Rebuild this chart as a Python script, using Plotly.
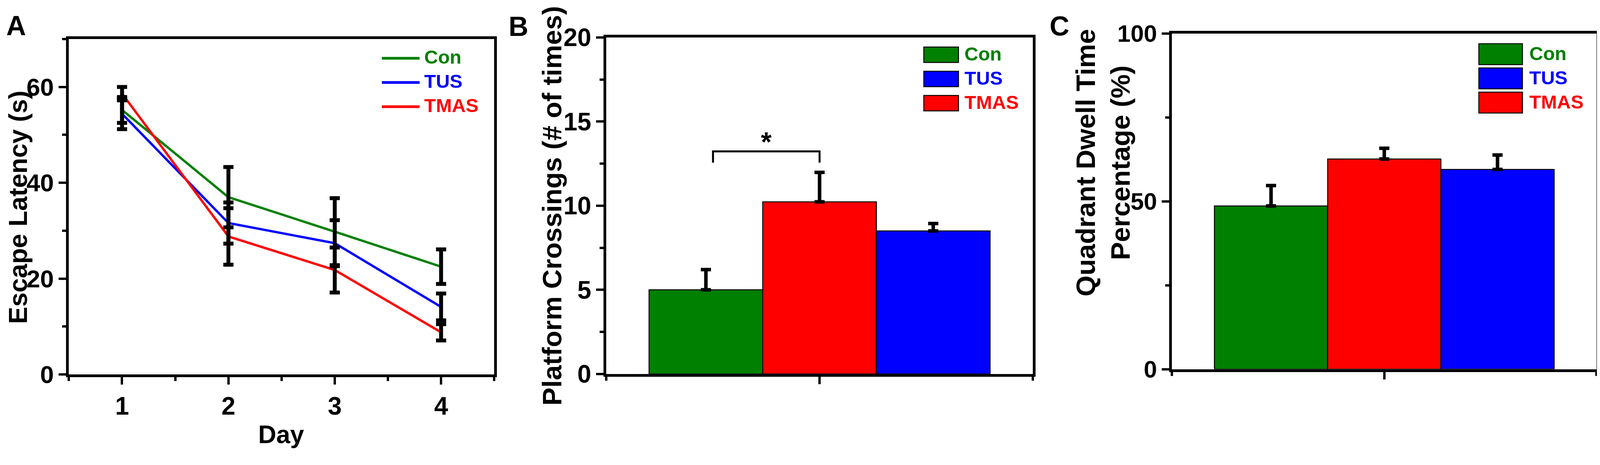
import plotly.graph_objects as go

# ---- data ----
days = [1, 2, 3, 4]
groups = ["Con", "TUS", "TMAS"]
colors = {"Con": "#008000", "TUS": "#0000FF", "TMAS": "#FF0000"}

latency = {
    "Con": [55.2, 37.0, 29.8, 22.5],
    "TUS": [54.4, 31.6, 27.4, 14.1],
    "TMAS": [58.6, 28.8, 21.8, 8.8],
}
latency_err = {
    "Con": [2.7, 6.3, 7.0, 3.6],
    "TUS": [3.2, 4.3, 4.8, 2.8],
    "TMAS": [1.4, 5.9, 4.7, 1.7],
}

bar_order = ["Con", "TMAS", "TUS"]
crossings = {"Con": 5.0, "TMAS": 10.23, "TUS": 8.5}
crossings_err = {"Con": 1.2, "TMAS": 1.75, "TUS": 0.44}
dwell = {"Con": 48.6, "TMAS": 62.6, "TUS": 59.5}
dwell_err = {"Con": 6.1, "TMAS": 3.2, "TUS": 4.3}

# ---- layout helpers ----
# the page only shows ~4096px across and has an 8px body margin,
# so positions measured on the 4239x1191 original are squeezed to fit
REF_W, REF_H = 4239, 1191
SX = 4096 / REF_W
W, H = 4088, 1183
FONT = "Liberation Sans, Arial, sans-serif"


def px(x):
    return (x * SX - 8) / W


def py(y):
    return 1 - (y - 8) / H


fig = go.Figure()

# panel A: lines first, error bars on top
for g in groups:
    fig.add_trace(go.Scatter(x=days, y=latency[g], mode="lines", name=g,
                             line=dict(color=colors[g], width=6),
                             xaxis="x", yaxis="y", showlegend=False))
for g in groups:
    fig.add_trace(go.Scatter(x=days, y=latency[g], mode="markers",
                             marker=dict(size=1, color="black"),
                             error_y=dict(type="data", array=latency_err[g], color="black",
                                          thickness=10, width=13),
                             xaxis="x", yaxis="y", showlegend=False))

# panels B and C: grouped bars
for g in bar_order:
    fig.add_trace(go.Bar(x=[0], y=[crossings[g]], name=g, xaxis="x2", yaxis="y2",
                         marker=dict(color=colors[g], line=dict(color="black", width=2.5)),
                         error_y=dict(type="data", symmetric=False, array=[crossings_err[g]],
                                      arrayminus=[0], color="black", thickness=9, width=13),
                         showlegend=False))
    fig.add_trace(go.Bar(x=[0], y=[dwell[g]], name=g, xaxis="x3", yaxis="y3",
                         marker=dict(color=colors[g], line=dict(color="black", width=2.5)),
                         error_y=dict(type="data", symmetric=False, array=[dwell_err[g]],
                                      arrayminus=[0], color="black", thickness=9, width=13),
                         showlegend=False))

axis_common = dict(showline=True, linewidth=7, linecolor="black", mirror=True,
                   showgrid=False, zeroline=False, ticks="outside", ticklen=19,
                   tickwidth=6, tickcolor="black")
minor_common = dict(ticks="outside", ticklen=10, tickwidth=6, tickcolor="black")

fig.update_layout(
    width=W, height=H, margin=dict(l=0, r=0, t=0, b=0),
    paper_bgcolor="white", plot_bgcolor="white",
    font=dict(family=FONT, color="black", weight="bold"),
    barmode="group", bargap=0.2, bargroupgap=0,
    xaxis=dict(axis_common, domain=[px(182.5), px(1309.5)], range=[0.5, 4.5],
               tickvals=days, tickfont=dict(size=64),
               minor=dict(minor_common, dtick=0.5, tick0=0.5)),
    yaxis=dict(axis_common, domain=[py(982.5), py(67.5)], range=[0, 70],
               dtick=20, tickfont=dict(size=63),
               minor=dict(minor_common, dtick=10)),
    xaxis2=dict(axis_common, anchor="y2", domain=[px(1606.7), px(2736)], range=[-0.5, 0.5],
                tickvals=[0], showticklabels=False,
                minor=dict(minor_common, dtick=0.5, tick0=0.5)),
    yaxis2=dict(axis_common, anchor="x2", domain=[py(981), py(63.3)], range=[0, 20],
                dtick=5, tickfont=dict(size=64),
                minor=dict(minor_common, dtick=2.5)),
    xaxis3=dict(axis_common, anchor="y3", domain=[px(3105), px(4230)], range=[-0.5, 0.5],
                tickvals=[0], showticklabels=False,
                minor=dict(minor_common, dtick=0.5, tick0=0.5)),
    yaxis3=dict(axis_common, anchor="x3", domain=[py(968), py(52.3)], range=[0, 100],
                dtick=50, tickfont=dict(size=61),
                minor=dict(minor_common, dtick=25)),
)

annotations = []
shapes = []


def label(text, x, y, size, color="black", xanchor="center", **kw):
    annotations.append(dict(text=text, x=px(x), y=py(y), xref="paper", yref="paper",
                            xanchor=xanchor, yanchor="middle", showarrow=False,
                            font=dict(size=size, family=FONT, weight="bold", color=color),
                            **kw))


# panel letters
label("A", 43, 31.7, 70)
label("B", 1373.5, 33.5, 70)
label("C", 2807.5, 33, 70)

# axis titles
label("Escape Latency (s)", 48, 526, 66, textangle=-90, borderpad=0)
label("Day", 745.5, 1146.7, 64)
label("Platform Crossings (# of times)", 1463.5, 522, 69, textangle=-90)
label("Quadrant Dwell Time<br>Percentage (%)", 2923, 405, 69, textangle=-90)

# legend A (lines)
for i, g in enumerate(groups):
    yc = 120 + 66 * i
    shapes.append(dict(type="line", xref="paper", yref="paper",
                       x0=px(1011.7), x1=px(1111.7), y0=py(yc), y1=py(yc),
                       line=dict(color=colors[g], width=7)))
    label(g, 1121.7, yc - 3, 49, color=colors[g], xanchor="left")

# legends B and C (boxes)
for (bx0, bx1, yc0, bh, tx) in [(2447.5, 2539.4, 110.5, 42, 2553),
                                (3918, 4033.5, 109, 57, 4049.8)]:
    for i, g in enumerate(groups):
        yc = yc0 + 66 * i
        shapes.append(dict(type="rect", xref="paper", yref="paper",
                           x0=px(bx0), x1=px(bx1), y0=py(yc + bh / 2), y1=py(yc - bh / 2),
                           fillcolor=colors[g], line=dict(color="black", width=2.5)))
        label(g, tx, yc - 2, 49, color=colors[g], xanchor="left")

# significance bracket in panel B (Con vs TMAS)
sig_y, sig_drop = 13.23, 12.56
shapes.append(dict(type="path", xref="x2", yref="y2",
                   path=f"M -0.25,{sig_drop} L -0.25,{sig_y} L 0,{sig_y} L 0,{sig_drop}",
                   line=dict(color="black", width=5)))
annotations.append(dict(text="*", x=-0.125, y=13.93, xref="x2", yref="y2", yshift=-6,
                        xanchor="center", yanchor="middle", showarrow=False,
                        font=dict(size=70, family=FONT, weight="bold")))

fig.update_layout(annotations=annotations, shapes=shapes)
fig.write_html("out.html")
